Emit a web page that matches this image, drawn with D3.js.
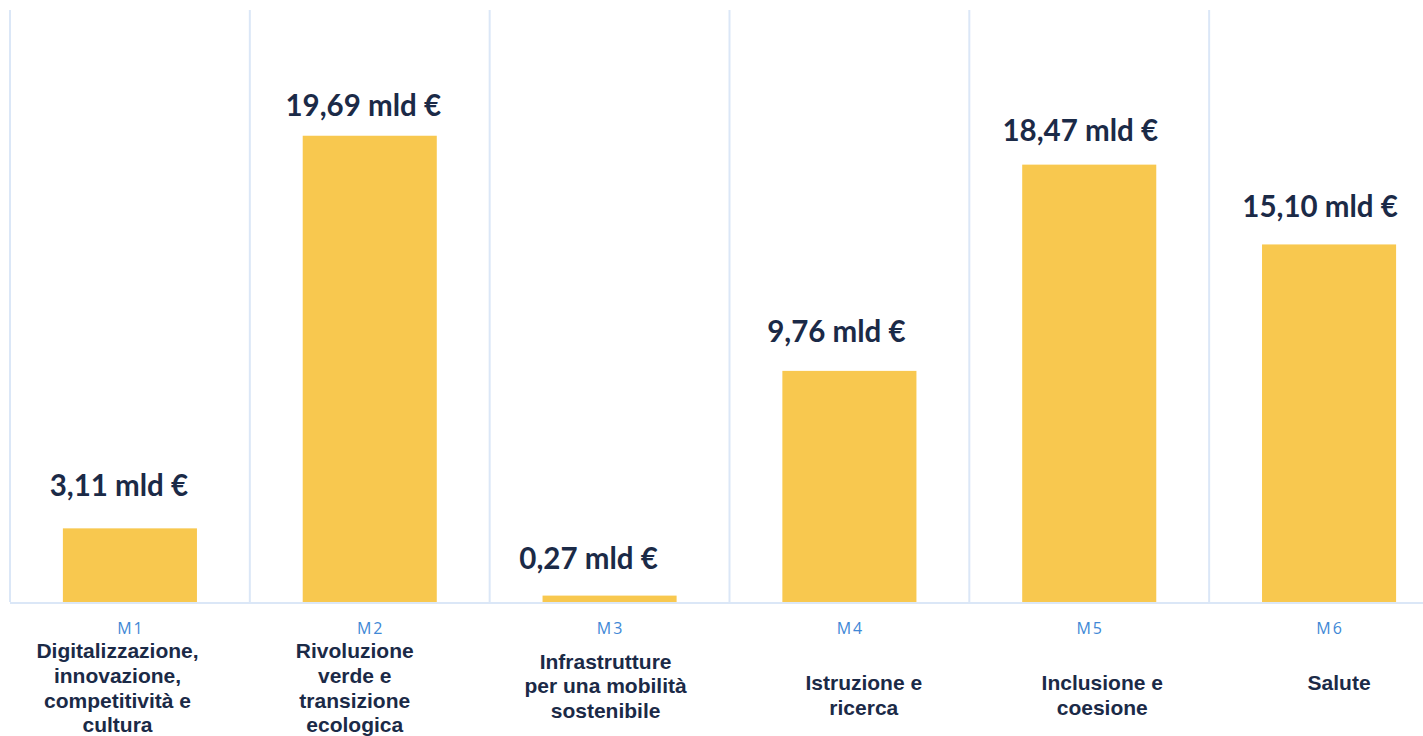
<!DOCTYPE html>
<html>
<head>
<meta charset="utf-8">
<script src="https://cdn.jsdelivr.net/npm/d3@7"></script>
<style>
  html, body { margin: 0; padding: 0; background: #ffffff; }
  svg { display: block; }
</style>
</head>
<body>
<svg id="chart" width="1423" height="736"></svg>
<script>
// ---- data ----
const codes = ["M1", "M2", "M3", "M4", "M5", "M6"];
const values = [3.11, 19.69, 0.27, 9.76, 18.47, 15.10];
const valueLabels = ["3,11 mld €", "19,69 mld €", "0,27 mld €", "9,76 mld €", "18,47 mld €", "15,10 mld €"];
const categoryLines = [
  ["Digitalizzazione,", "innovazione,", "competitività e", "cultura"],
  ["Rivoluzione", "verde e", "transizione", "ecologica"],
  ["Infrastrutture", "per una mobilità", "sostenibile"],
  ["Istruzione e", "ricerca"],
  ["Inclusione e", "coesione"],
  ["Salute"]
];

// ---- layout ----
const W = 1423, H = 736;
const marginLeft = 10, marginTop = 10, baseY = 602;
const nBands = codes.length;
const step = 239.83;

// hand-placed label nudges seen in the original slide
const valueLabelDx  = [-11, -6.5, -21, -13, -9, -9];
const valueLabelGap = [32.5, 20, 27, 29, 24, 27];
const catLabelDx    = [-12.4, -15, -4, 14.4, 13, 10];
const catFirstBase  = [657.7, 657.7, 668.5, 690, 690, 690];
const catLineH = 24.9;

const svg = d3.select("#chart");

const x = d3.scaleBand()
  .domain(codes)
  .range([marginLeft, marginLeft + step * nBands])
  .paddingInner(0.441)
  .paddingOuter(0.2205);

const y = d3.scaleLinear().domain([0, 25]).range([baseY, marginTop]);

const gridColor = "#dbe7f7";
const barColor = "#f8c84f";
const navy = "#1b2a47";
const codeColor = "#4188d6";

const cx = i => x(codes[i]) + x.bandwidth() / 2;

// vertical separators
svg.append("g").selectAll("line")
  .data(codes)
  .join("line")
  .attr("x1", d => x(d) - x.step() * x.paddingInner() / 2)
  .attr("x2", d => x(d) - x.step() * x.paddingInner() / 2)
  .attr("y1", marginTop)
  .attr("y2", baseY)
  .attr("stroke", gridColor)
  .attr("stroke-width", 2);

// bars
svg.append("g").selectAll("rect")
  .data(values)
  .join("rect")
  .attr("x", (d, i) => x(codes[i]))
  .attr("y", d => y(d))
  .attr("width", x.bandwidth())
  .attr("height", d => baseY - y(d))
  .attr("fill", barColor);

// baseline
svg.append("line")
  .attr("x1", marginLeft).attr("x2", W)
  .attr("y1", baseY + 1).attr("y2", baseY + 1)
  .attr("stroke", gridColor)
  .attr("stroke-width", 2);

// value labels
svg.append("g").selectAll("text")
  .data(values)
  .join("text")
  .attr("x", (d, i) => cx(i) + valueLabelDx[i])
  .attr("y", (d, i) => y(d) - valueLabelGap[i])
  .attr("text-anchor", "middle")
  .attr("font-family", "Lato, 'Liberation Sans', sans-serif")
  .attr("font-weight", 700)
  .attr("font-size", 29.5)
  .attr("fill", navy)
  .text((d, i) => valueLabels[i]);

// code labels
svg.append("g").selectAll("text")
  .data(codes)
  .join("text")
  .attr("x", (d, i) => cx(i) + 1)
  .attr("y", 633.5)
  .attr("text-anchor", "middle")
  .attr("font-family", "'Open Sans', 'Liberation Sans', sans-serif")
  .attr("font-size", 16)
  .attr("letter-spacing", 2)
  .attr("fill", codeColor)
  .text(d => d);

// category labels
const catG = svg.append("g");
categoryLines.forEach((lines, i) => {
  const lx = cx(i) + catLabelDx[i];
  const t = catG.append("text")
    .attr("x", lx)
    .attr("y", catFirstBase[i])
    .attr("text-anchor", "middle")
    .attr("font-family", "'Liberation Sans', Arial, sans-serif")
    .attr("font-weight", 700)
    .attr("font-size", 21)
    .attr("fill", navy);
  lines.forEach((ln, j) => {
    t.append("tspan")
      .attr("x", lx)
      .attr("y", catFirstBase[i] + j * catLineH)
      .text(ln);
  });
});
</script>
</body>
</html>
